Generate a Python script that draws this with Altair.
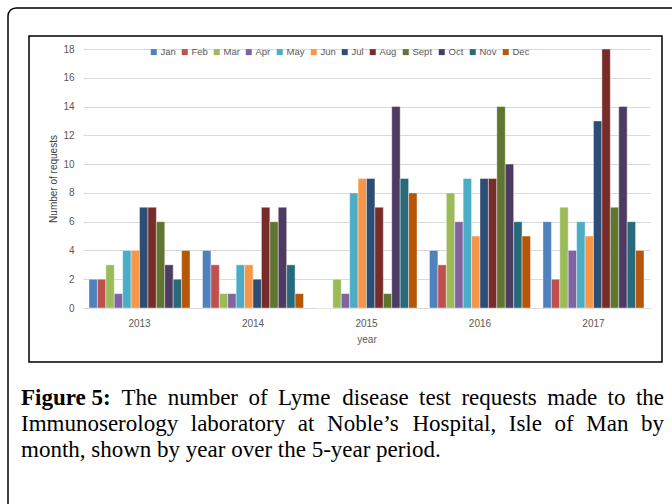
import altair as alt
import pandas as pd

months = ["Jan", "Feb", "Mar", "Apr", "May", "Jun", "Jul", "Aug", "Sept", "Oct", "Nov", "Dec"]
years = ["2013", "2014", "2015", "2016", "2017"]
v2013 = [2, 2, 3, 1, 4, 4, 7, 7, 6, 3, 2, 4]
v2014 = [4, 3, 1, 1, 3, 3, 2, 7, 6, 7, 3, 1]
v2015 = [0, 0, 2, 1, 8, 9, 9, 7, 1, 14, 9, 8]
v2016 = [4, 3, 8, 6, 9, 5, 9, 9, 14, 10, 6, 5]
v2017 = [6, 2, 7, 4, 6, 5, 13, 18, 7, 14, 6, 4]
y_ticks = [0, 2, 4, 6, 8, 10, 12, 14, 16, 18]

colors = ["#4F81BD", "#C0504D", "#9BBB59", "#8064A2", "#4BACC6", "#F79646",
          "#2C4D75", "#772C2A", "#5F7530", "#4D3B62", "#276A7C", "#B65708"]

caption_bold = "Figure 5:"
caption_line1 = "The number of Lyme disease test requests made to the"
caption_line2 = "Immunoserology laboratory at Noble\u2019s Hospital, Isle of Man by"
caption_line3 = "month, shown by year over the 5-year period."

rows = []
for yr, vals in zip(years, [v2013, v2014, v2015, v2016, v2017]):
    for m, v in zip(months, vals):
        rows.append({"year": yr, "month": m, "requests": v})
df = pd.DataFrame(rows)

# layout (pixels)
PL, PT, W, H = 83, 49, 567, 259
CAP_SIZE = 23
CAP_X0, CAP_X1 = 21, 664
CAP_BASE = [405, 431, 457]

# Times (Liberation Serif) advance widths, per 1000 em, for justification
_roman = {" ": 250, ",": 250, "-": 333, ".": 250, ":": 278, "\u2019": 333,
          "0": 500, "1": 500, "2": 500, "3": 500, "4": 500, "5": 500, "6": 500, "7": 500, "8": 500, "9": 500,
          "F": 556, "H": 722, "I": 333, "L": 611, "M": 889, "N": 722, "T": 611,
          "a": 444, "b": 500, "c": 444, "d": 500, "e": 444, "f": 333, "g": 500, "h": 500, "i": 278,
          "j": 278, "k": 500, "l": 278, "m": 778, "n": 500, "o": 500, "p": 500, "q": 500, "r": 333,
          "s": 389, "t": 278, "u": 500, "v": 500, "w": 722, "x": 500, "y": 500, "z": 444}
_bold = {" ": 250, "F": 611, "i": 278, "g": 500, "u": 556, "r": 444, "e": 444, "5": 500, ":": 333}


def text_w(s, table):
    return sum(table.get(c, 500) for c in s) * CAP_SIZE / 1000.0


def justify(items, x0, x1):
    # items: list of (word, bold)
    widths = [text_w(w, _bold if b else _roman) for w, b in items]
    gap = (x1 - x0 - sum(widths)) / (len(items) - 1)
    out, x = [], x0
    for (w, b), wd in zip(items, widths):
        out.append((w, b, x))
        x += wd + gap
    return out


line1_items = [(caption_bold, True)] + [(w, False) for w in caption_line1.split(" ")]
line2_items = [(w, False) for w in caption_line2.split(" ")]
cap_rows = []
for (w, b, x) in justify(line1_items, CAP_X0, CAP_X1):
    cap_rows.append({"w": w, "bold": b, "x": x - PL, "y": CAP_BASE[0] - PT})
for (w, b, x) in justify(line2_items, CAP_X0, CAP_X1):
    cap_rows.append({"w": w, "bold": b, "x": x - PL, "y": CAP_BASE[1] - PT})
cap_rows.append({"w": caption_line3, "bold": False, "x": CAP_X0 - PL, "y": CAP_BASE[2] - PT})
cap_df = pd.DataFrame(cap_rows)

bars = alt.Chart(df).mark_bar(stroke="white", strokeWidth=0.4).encode(
    x=alt.X("year:N", sort=years, title="year",
            scale=alt.Scale(paddingInner=0.11, paddingOuter=0.053),
            axis=alt.Axis(labelAngle=0, ticks=False, domainColor="#D9D9D9",
                          labelColor="#595959", labelFont="Liberation Sans", labelFontSize=10,
                          labelPadding=10, titleColor="#595959", titleFont="Liberation Sans",
                          titleFontSize=10, titleFontWeight="normal", titlePadding=6)),
    xOffset=alt.XOffset("month:N", sort=months, scale=alt.Scale(paddingInner=0, paddingOuter=0)),
    y=alt.Y("requests:Q", title="Number of requests",
            scale=alt.Scale(domain=[0, 18], nice=False),
            axis=alt.Axis(values=y_ticks, ticks=False, domain=False, gridColor="#D9D9D9",
                          labelColor="#595959", labelFont="Liberation Sans", labelFontSize=10,
                          labelPadding=9, titleColor="#404040", titleFont="Liberation Sans",
                          titleFontSize=10, titleFontWeight="normal", titlePadding=4)),
    color=alt.Color("month:N", sort=months,
                    scale=alt.Scale(domain=months, range=colors),
                    legend=alt.Legend(title=None, orient="none", direction="horizontal",
                                      columns=12, legendX=66, legendY=-2,
                                      symbolType="square", symbolSize=36, symbolStrokeWidth=0,
                                      labelFont="Liberation Sans", labelFontSize=9.5,
                                      labelColor="#595959", labelOffset=2, columnPadding=4)),
)

one = pd.DataFrame({"a": [0]})
outer = alt.Chart(one).mark_rect(fill=None, stroke="black", strokeWidth=1.5,
                                 cornerRadiusTopLeft=8).encode(
    x=alt.value(8 - PL), x2=alt.value(700 - PL), y=alt.value(8 - PT), y2=alt.value(520 - PT))
inner = alt.Chart(one).mark_rect(fill=None, stroke="black", strokeWidth=1.5).encode(
    x=alt.value(29 - PL), x2=alt.value(662 - PL), y=alt.value(36 - PT), y2=alt.value(362 - PT))

cap_b = alt.Chart(cap_df).transform_filter("datum.bold").mark_text(
    align="left", baseline="alphabetic", font="Liberation Serif",
    fontSize=CAP_SIZE, fontWeight="bold", color="black").encode(
    x=alt.X("x:Q", scale=None), y=alt.Y("y:Q", scale=None), text="w:N")
cap_r = alt.Chart(cap_df).transform_filter("!datum.bold").mark_text(
    align="left", baseline="alphabetic", font="Liberation Serif",
    fontSize=CAP_SIZE, color="black").encode(
    x=alt.X("x:Q", scale=None), y=alt.Y("y:Q", scale=None), text="w:N")

chart = alt.layer(outer, inner, bars, cap_b, cap_r).properties(
    width=W, height=H,
    autosize=alt.AutoSizeParams(type="none"),
    padding={"left": PL, "top": PT, "right": 672 - PL - W, "bottom": 504 - PT - H},
    background="white",
).configure_view(stroke=None)

chart.save("out.html", embed_options={"renderer": "svg", "actions": False})
